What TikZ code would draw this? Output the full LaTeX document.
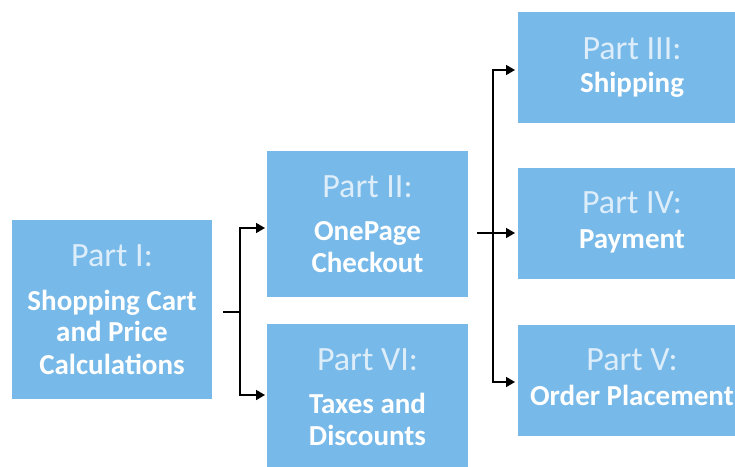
\documentclass[tikz,border=0pt]{standalone}
\usepackage{fontspec}
\setmainfont{Carlito}
\usetikzlibrary{arrows.meta}
\definecolor{boxblue}{HTML}{77B9E9}
\definecolor{paletext}{HTML}{DDEEFA}
\tikzset{
  partbox/.style 2 args={fill=boxblue, draw=none, inner sep=0pt,
    minimum width=#1, minimum height=#2, rectangle},
  parthead/.style={anchor=base, inner sep=0pt, text=paletext,
    font=\fontsize{34}{34}\selectfont},
  parttitle/.style={anchor=base, inner sep=0pt, text=white,
    font=\bfseries\fontsize{29}{29}\selectfont},
  link/.style={draw=black, line width=1.6pt},
  arr/.style={link, -{Triangle[length=9pt,width=10pt]}},
}
\begin{document}
\begin{tikzpicture}[x=1pt, y=-1pt]
  \useasboundingbox (0,0) rectangle (735,466);
  \fill[white] (0,0) rectangle (735,466);
  \clip (0,0) rectangle (735,466);

  % boxes
  \node[partbox={200pt}{179pt}] (p1) at (112,309.5) {};
  \node[partbox={201pt}{146pt}] (p2) at (367.5,224) {};
  \node[partbox={201pt}{146pt}] (p6) at (367.5,397) {};
  \node[partbox={228pt}{111pt}] (p3) at (632,67.5) {};
  \node[partbox={228pt}{111pt}] (p4) at (632,223.5) {};
  \node[partbox={228pt}{111pt}] (p5) at (632,380.5) {};

  % labels
  \node[parthead]  (h1) at (112,266) {Part I:};
  \node[parttitle] (t1a) at (112,310) {Shopping Cart};
  \node[parttitle] (t1b) at (112,341) {and Price};
  \node[parttitle] (t1c) at (112,374) {Calculations};

  \node[parthead]  (h2) at (367.5,197) {Part II:};
  \node[parttitle] (t2a) at (367.5,240) {OnePage};
  \node[parttitle] (t2b) at (367.5,272) {Checkout};

  \node[parthead]  (h6) at (367.5,370) {Part VI:};
  \node[parttitle] (t6a) at (367.5,413) {Taxes and};
  \node[parttitle] (t6b) at (367.5,445) {Discounts};

  \node[parthead]  (h3) at (632,59) {Part III:};
  \node[parttitle] (t3) at (632,92) {Shipping};

  \node[parthead]  (h4) at (632,213) {Part IV:};
  \node[parttitle] (t4) at (632,248) {Payment};

  \node[parthead]  (h5) at (632,370) {Part V:};
  \node[parttitle] (t5) at (632,405) {Order Placement};

  % branching from Part I
  \coordinate (s1) at (223,312);
  \coordinate (j1) at (240,312);
  \coordinate (e2) at (265,228);
  \coordinate (e6) at (265,395);
  \draw[link] (s1) -- (j1);
  \draw[arr] (j1) |- (e2);
  \draw[arr] (j1) |- (e6);

  % branching from Part II
  \coordinate (s2) at (477,233);
  \coordinate (j2) at (493,233);
  \coordinate (e3) at (515,70);
  \coordinate (e4) at (515,233);
  \coordinate (e5) at (515,382);
  \draw[arr] (s2) -- (e4);
  \draw[arr] (j2) |- (e3);
  \draw[arr] (j2) |- (e5);
\end{tikzpicture}
\end{document}
